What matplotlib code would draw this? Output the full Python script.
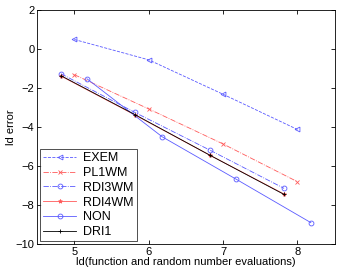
import matplotlib
matplotlib.use("Agg")
import matplotlib.pyplot as plt

plt.rcParams['font.family'] = ['Liberation Sans', 'DejaVu Sans']

exem_x = [5.0, 6.0, 7.0, 8.0]
exem_y = [0.47, -0.57, -2.33, -4.13]
pl1wm_x = [5.0, 6.0, 7.0, 8.0]
pl1wm_y = [-1.33, -3.08, -4.87, -6.8]
rdi3wm_x = [4.82, 5.81, 6.82, 7.82]
rdi3wm_y = [-1.28, -3.25, -5.18, -7.14]
rdi4wm_x = [4.82, 5.82, 6.82, 7.82]
rdi4wm_y = [-1.4, -3.4, -5.44, -7.43]
non_x = [5.17, 6.18, 7.18, 8.18]
non_y = [-1.54, -4.5, -6.68, -8.89]
dri1_x = [4.82, 5.82, 6.82, 7.82]
dri1_y = [-1.38, -3.38, -5.44, -7.45]

blue = "#5a5aff"
red = "#ff5a5a"

fig = plt.figure(figsize=(3.38, 2.73), dpi=100)
ax = fig.add_axes([0.11, 0.105, 0.88, 0.86])
lw = 0.6
ax.plot(exem_x, exem_y, '--', color=blue, marker='<', mfc='none', ms=3.5, mew=0.6, lw=lw, label='EXEM')
ax.plot(pl1wm_x, pl1wm_y, '-.', color=red, marker='x', ms=2.5, mew=0.6, lw=lw, label='PL1WM')
ax.plot(rdi3wm_x, rdi3wm_y, '-.', color=blue, marker='o', mfc='none', ms=3.5, mew=0.6, lw=lw, label='RDI3WM')
ax.plot(rdi4wm_x, rdi4wm_y, '-', color=red, marker='*', ms=3, mew=0.6, lw=lw, label='RDI4WM')
ax.plot(non_x, non_y, '-', color=blue, marker='o', mfc='none', ms=3.5, mew=0.6, lw=lw, label='NON')
ax.plot(dri1_x, dri1_y, '-', color='black', marker='+', ms=3.5, mew=0.6, lw=lw, label='DRI1')

ax.set_xlim(4.5, 8.5)
ax.set_ylim(-10, 2)
ax.set_xticks([5, 6, 7, 8])
ax.set_yticks([-10, -8, -6, -4, -2, 0, 2])
ax.tick_params(direction='in', top=True, right=True, labelsize=8, length=3, width=0.6, pad=2)
for s in ax.spines.values():
    s.set_linewidth(0.6)
ax.set_xlabel('ld(function and random number evaluations)', fontsize=8, labelpad=0)
ax.set_ylabel('ld error', fontsize=8, labelpad=0)
leg = ax.legend(loc='lower left', fontsize=9, frameon=True, fancybox=False,
                edgecolor='black', borderaxespad=0.25, handlelength=2.6,
                labelspacing=0.22, borderpad=0.25, handletextpad=0.6)
leg.get_frame().set_linewidth(0.6)
fig.savefig('out.png', dpi=100)
